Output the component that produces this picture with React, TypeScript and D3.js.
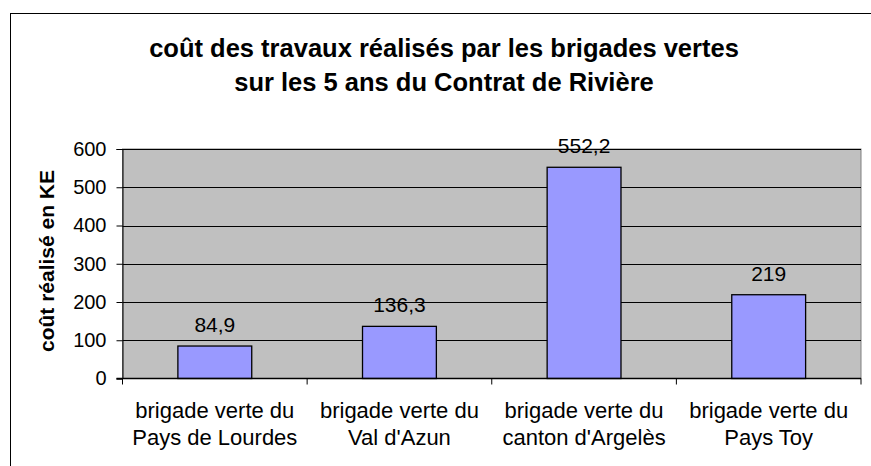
import React, { useEffect, useRef } from "react";
import * as d3 from "d3";

const categoriesLine1: string[] = [
  "brigade verte du",
  "brigade verte du",
  "brigade verte du",
  "brigade verte du",
];
const categoriesLine2: string[] = [
  "Pays de Lourdes",
  "Val d'Azun",
  "canton d'Argelès",
  "Pays Toy",
];
const costValues: number[] = [84.9, 136.3, 552.2, 219];
const valueLabels: string[] = ["84,9", "136,3", "552,2", "219"];
const yTicks: number[] = [0, 100, 200, 300, 400, 500, 600];
const titleLines: string[] = [
  "coût des travaux réalisés par les brigades vertes",
  "sur les 5 ans du Contrat de Rivière",
];
const yAxisTitle = "coût réalisé en KE";

const App: React.FC = () => {
  const svgRef = useRef<SVGSVGElement | null>(null);

  useEffect(() => {
    drawChart();
  }, []);

  const drawChart = () => {
    const svg = d3.select(svgRef.current);
    svg.selectAll("*").remove();

    const width = 871;
    const height = 466;
    const plot = { left: 122.5, right: 861, top: 149, bottom: 378.5 };
    const font = "'Liberation Sans', Arial, sans-serif";

    const keys = categoriesLine2.map((_, i) => String(i));

    const x = d3
      .scaleBand()
      .domain(keys)
      .range([plot.left, plot.right])
      .paddingInner(0.6)
      .paddingOuter(0.3);

    const y = d3.scaleLinear().domain([0, 600]).range([plot.bottom, plot.top]);

    // outer chart frame (cut off at right and bottom)
    svg
      .append("rect")
      .attr("x", 10.5)
      .attr("y", 13.5)
      .attr("width", width)
      .attr("height", height)
      .attr("fill", "white")
      .attr("stroke", "#000")
      .attr("stroke-width", 1);

    // plot background
    svg
      .append("rect")
      .attr("x", plot.left)
      .attr("y", plot.top)
      .attr("width", plot.right - plot.left)
      .attr("height", plot.bottom - plot.top)
      .attr("fill", "#c0c0c0")
      .attr("stroke", "#808080")
      .attr("stroke-width", 1);

    // gridlines
    svg
      .append("g")
      .selectAll("line")
      .data(yTicks.filter((t) => t > 0))
      .enter()
      .append("line")
      .attr("x1", plot.left)
      .attr("x2", plot.right)
      .attr("y1", (d) => Math.round(y(d)) + 0.5)
      .attr("y2", (d) => Math.round(y(d)) + 0.5)
      .attr("stroke", "#000")
      .attr("stroke-width", 1);

    // bars
    svg
      .append("g")
      .selectAll("rect")
      .data(costValues)
      .enter()
      .append("rect")
      .attr("x", (_, i) => x(keys[i]) || 0)
      .attr("y", (d) => y(d))
      .attr("width", x.bandwidth())
      .attr("height", (d) => plot.bottom - y(d))
      .attr("fill", "#9999ff")
      .attr("stroke", "#000")
      .attr("stroke-width", 1.3);

    // value labels
    svg
      .append("g")
      .selectAll("text")
      .data(costValues)
      .enter()
      .append("text")
      .attr("x", (_, i) => (x(keys[i]) || 0) + x.bandwidth() / 2)
      .attr("y", (d) => y(d) - 14)
      .attr("text-anchor", "middle")
      .attr("font-family", font)
      .attr("font-size", 21)
      .attr("fill", "#000")
      .text((_, i) => valueLabels[i]);

    // y axis
    const yAxis = svg
      .append("g")
      .attr("transform", `translate(${plot.left},0)`)
      .call(
        d3
          .axisLeft(y)
          .tickValues(yTicks)
          .tickSize(6)
          .tickPadding(10)
          .tickFormat((d) => String(d))
      );
    yAxis.select(".domain").attr("stroke", "#000");
    yAxis.selectAll(".tick line").attr("stroke", "#000");
    yAxis
      .selectAll(".tick text")
      .attr("font-family", font)
      .attr("font-size", 20)
      .attr("fill", "#000");

    // x axis
    const bounds = d3.range(keys.length + 1).map((i) => plot.left + i * x.step());
    const xAxis = svg.append("g");
    xAxis
      .append("line")
      .attr("x1", plot.left - 6)
      .attr("x2", plot.right)
      .attr("y1", plot.bottom)
      .attr("y2", plot.bottom)
      .attr("stroke", "#000")
      .attr("stroke-width", 1.3);
    xAxis
      .selectAll(".xtick")
      .data(bounds)
      .enter()
      .append("line")
      .attr("class", "xtick")
      .attr("x1", (d) => d)
      .attr("x2", (d) => d)
      .attr("y1", plot.bottom)
      .attr("y2", plot.bottom + 6)
      .attr("stroke", "#000");

    const catLabels = xAxis
      .selectAll(".cat")
      .data(keys)
      .enter()
      .append("text")
      .attr("class", "cat")
      .attr("text-anchor", "middle")
      .attr("font-family", font)
      .attr("font-size", 22)
      .attr("fill", "#000");
    catLabels
      .append("tspan")
      .attr("x", (d) => (x(d) || 0) + x.bandwidth() / 2)
      .attr("y", 417.5)
      .text((_, i) => categoriesLine1[i]);
    catLabels
      .append("tspan")
      .attr("x", (d) => (x(d) || 0) + x.bandwidth() / 2)
      .attr("y", 444.5)
      .text((_, i) => categoriesLine2[i]);

    // y axis title
    svg
      .append("text")
      .attr("transform", "rotate(-90)")
      .attr("x", -261)
      .attr("y", 54)
      .attr("text-anchor", "middle")
      .attr("font-family", font)
      .attr("font-size", 21)
      .attr("font-weight", "bold")
      .attr("fill", "#000")
      .text(yAxisTitle);

    // chart title
    svg
      .append("g")
      .selectAll("text")
      .data(titleLines)
      .enter()
      .append("text")
      .attr("x", 444)
      .attr("y", (_, i) => 57 + i * 34)
      .attr("text-anchor", "middle")
      .attr("font-family", font)
      .attr("font-size", 25.5)
      .attr("font-weight", "bold")
      .attr("fill", "#000")
      .text((d) => d);
  };

  return (
    <svg
      ref={svgRef}
      width="871"
      height="466"
      style={{ position: "absolute", left: 0, top: 0, display: "block" }}
    ></svg>
  );
};

export default App;
